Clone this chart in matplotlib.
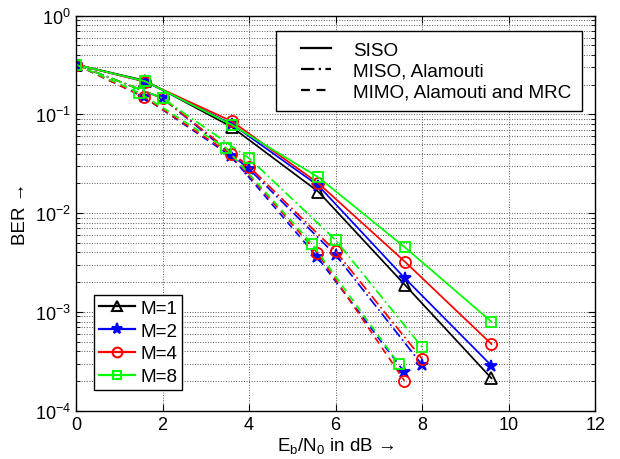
import numpy as np
import matplotlib
matplotlib.use("Agg")
import matplotlib.pyplot as plt
from matplotlib.lines import Line2D
from matplotlib.legend_handler import HandlerLine2D

plt.rcParams["font.family"] = ["Liberation Sans", "DejaVu Sans"]
plt.rcParams["mathtext.fontset"] = "custom"
plt.rcParams["mathtext.rm"] = "Liberation Sans"
plt.rcParams["mathtext.it"] = "Liberation Sans"

# ---------------------------
# DATOS (BER vs Eb/N0)
# ---------------------------

# SISO
x_siso = [0, 1.6, 3.6, 5.6, 7.6, 9.6]
siso_m1 = [0.32, 0.220, 0.0746, 0.0165, 0.00188, 0.000213]
siso_m2 = [0.32, 0.215, 0.0800, 0.0190, 0.00219, 0.000286]
siso_m4 = [0.32, 0.215, 0.0853, 0.0201, 0.00323, 0.000473]
siso_m8 = [0.32, 0.217, 0.0787, 0.0231, 0.00451, 0.000796]

# MISO, Alamouti
x_miso = [0, 2, 4, 6, 8]
miso_m2 = [0.32, 0.146, 0.0280, 0.00377, 0.000290]
miso_m4 = [0.32, 0.146, 0.0296, 0.00411, 0.000334]
miso_m8 = [0.32, 0.146, 0.0360, 0.00535, 0.000438]

# MIMO, Alamouti y MRC
x_mimo = [0, 1.56, 3.57, 5.58, 7.59]
x_mimo_m8 = [0, 1.46, 3.46, 5.45, 7.46]
mimo_m2 = [0.32, 0.151, 0.0382, 0.00357, 0.000245]
mimo_m4 = [0.32, 0.151, 0.0398, 0.00395, 0.000201]
mimo_m8 = [0.32, 0.166, 0.0457, 0.00491, 0.000297]

etiquetas_m = ["M=1", "M=2", "M=4", "M=8"]
etiquetas_esquema = ["SISO", "MISO, Alamouti", "MIMO, Alamouti and MRC"]

# estilos por M
estilo = {
    "M=1": dict(color="black", marker="^", ms=8),
    "M=2": dict(color="blue", marker="*", ms=9),
    "M=4": dict(color="red", marker="o", ms=8),
    "M=8": dict(color="#00ff00", marker="s", ms=7),
}
ls_miso = (0, (6, 2, 1, 2))
ls_mimo = (0, (4, 3))
LW = 1.25


class HandlerCorrido(HandlerLine2D):
    # dibuja la linea de la leyenda solo en la parte derecha del hueco
    def __init__(self, corrimiento, **kw):
        super().__init__(**kw)
        self.corrimiento = corrimiento

    def create_artists(self, legend, orig_handle, xdescent, ydescent,
                       width, height, fontsize, trans):
        d = self.corrimiento
        return super().create_artists(legend, orig_handle, xdescent - d,
                                      ydescent, width - d, height,
                                      fontsize, trans)


fig = plt.figure(figsize=(6.2, 4.6), dpi=100)
ax = fig.add_axes([0.1226, 0.105, 0.8376, 0.8587])

def dibujar(x, y, m, ls):
    st = estilo[m]
    relleno = st["color"] if st["marker"] == "*" else "none"
    ax.plot(x, y, color=st["color"], linestyle=ls, linewidth=LW,
            marker=st["marker"], markersize=st["ms"], markerfacecolor=relleno,
            markeredgewidth=1.3)

dibujar(x_siso, siso_m1, "M=1", "-")
dibujar(x_siso, siso_m2, "M=2", "-")
dibujar(x_siso, siso_m4, "M=4", "-")
dibujar(x_siso, siso_m8, "M=8", "-")

dibujar(x_miso, miso_m2, "M=2", ls_miso)
dibujar(x_miso, miso_m4, "M=4", ls_miso)
dibujar(x_miso, miso_m8, "M=8", ls_miso)

dibujar(x_mimo, mimo_m2, "M=2", ls_mimo)
dibujar(x_mimo, mimo_m4, "M=4", ls_mimo)
dibujar(x_mimo_m8, mimo_m8, "M=8", ls_mimo)

ax.set_yscale("log")
ax.set_xlim(0, 12)
ax.set_ylim(1e-4, 1)
ax.set_xticks([0, 2, 4, 6, 8, 10, 12])
ax.set_yticks([1e-4, 1e-3, 1e-2, 1e-1, 1])
ax.set_yticklabels([r"$10^{-4}$", r"$10^{-3}$", r"$10^{-2}$", r"$10^{-1}$", r"$10^{0}$"])
ax.tick_params(which="both", direction="in", top=True, right=True, labelsize=13)
ax.tick_params(which="major", length=5)
ax.tick_params(which="minor", length=3)
ax.tick_params(axis="x", which="minor", bottom=False, top=False)
ax.grid(which="major", color="0.35", linestyle=":", linewidth=0.7)
ax.grid(which="minor", axis="y", color="0.35", linestyle=":", linewidth=0.7)
for s in ax.spines.values():
    s.set_linewidth(1.0)

ax.set_xlabel(r"E$_\mathrm{b}$/N$_\mathrm{0}$ in dB →", fontsize=13.5, labelpad=2)
ax.set_ylabel("BER →", fontsize=13.5, labelpad=4)

# leyenda de esquemas (lineas negras)
h_esq = [Line2D([], [], color="black", lw=1.6, ls=ls)
         for ls in ["-", ls_miso, ls_mimo]]
leg1 = ax.legend(h_esq, etiquetas_esquema, loc="upper right",
                 bbox_to_anchor=(0.974, 0.9605), borderaxespad=0,
                 fontsize=13.6, fancybox=False,
                 edgecolor="black", framealpha=1, handlelength=2.32,
                 borderpad=0.55, labelspacing=0.2, handletextpad=1.2,
                 handler_map={Line2D: HandlerCorrido(10.6)})
leg1.get_frame().set_linewidth(1.0)
ax.add_artist(leg1)

# leyenda de M
h_m = []
for m in etiquetas_m:
    st = estilo[m]
    h_m.append(Line2D([], [], color=st["color"], lw=1.6, marker=st["marker"],
                      markersize=st["ms"] - 1, markeredgewidth=1.5,
                      markerfacecolor=st["color"] if st["marker"] == "*" else "none"))
leg2 = ax.legend(h_m, etiquetas_m, loc="lower left",
                 bbox_to_anchor=(0.0347, 0.0524), borderaxespad=0,
                 fontsize=13.6, fancybox=False,
                 edgecolor="black", framealpha=1, handlelength=1.9,
                 borderpad=0.25, labelspacing=0.3, handletextpad=0.3)
leg2.get_frame().set_linewidth(1.0)

fig.savefig("out.png", dpi=100)
